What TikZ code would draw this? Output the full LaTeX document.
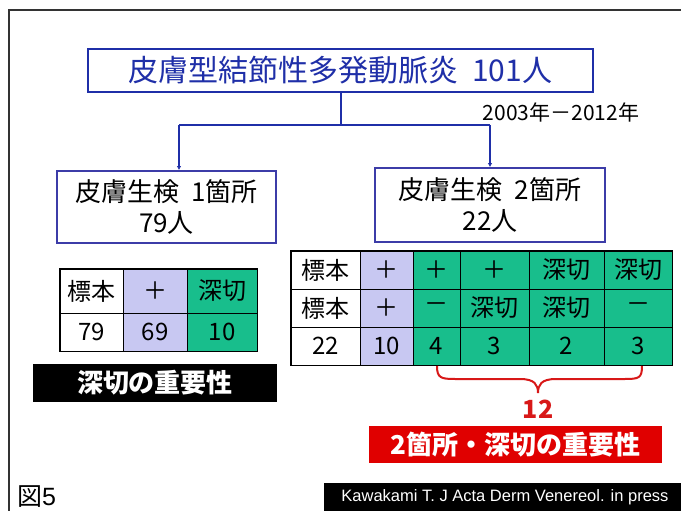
\documentclass[tikz,border=0pt]{standalone}
\usepackage{fontspec}
\setmainfont{Noto Sans CJK JP}
\newfontfamily\arialf{Liberation Sans}
\usetikzlibrary{arrows.meta}
\definecolor{tblue}{HTML}{1F2FA8}
\definecolor{tpurple}{HTML}{3C3CA8}
\definecolor{lav}{HTML}{C8C8F2}
\definecolor{tgreen}{HTML}{18BE8C}
\definecolor{tred}{HTML}{E00000}
\definecolor{bred}{HTML}{D81818}
\newcommand{\tcell}[7]{%
  \node[cellbox, fill=#6, minimum width=#4pt-#2pt, minimum height=#5pt-#3pt]
    (#1) at ({(#2+#4)/2},{(#3+#5)/2}) {#7};}
\tikzset{
  cellbox/.style={draw=black, line width=0.8pt, inner sep=0pt, font=\fontsize{24}{26}\selectfont},
  biobox/.style={draw=tpurple, line width=1.8pt, inner sep=0pt, align=center, font=\fontsize{26}{31}\selectfont},
  cline/.style={draw=tblue, line width=2pt},
  carrow/.style={cline, -{Latex[length=4pt,width=4.5pt]}},
  banner/.style={inner sep=0pt, text=white, font=\bfseries\fontsize{26}{28}\selectfont}
}
\begin{document}
\begin{tikzpicture}[x=1pt,y=-1pt]
\useasboundingbox (0,0) rectangle (681,511);
\fill[white] (0,0) rectangle (681,511);
\draw[line width=1.2pt, black!80] (9,511) -- (9,10) -- (681,10);

% title
\node[draw=tblue, line width=2.5pt, minimum width=505pt, minimum height=43pt, inner sep=0pt,
      text=tblue, font=\fontsize{30}{32}\selectfont] (title) at (340.5,70.5) {皮膚型結節性多発動脈炎\hspace{0.45em}101人};
\node[font=\fontsize{21}{23}\selectfont] (yrs) at (561,112) {2003年－2012年};

% biopsy boxes
\node[biobox, minimum width=219pt, minimum height=72pt] (lbox) at (166.5,207) {皮膚生検\hspace{0.45em}1箇所\\79人};
\node[biobox, minimum width=230pt, minimum height=74pt] (rbox) at (490,205) {皮膚生検\hspace{0.45em}2箇所\\22人};

% connectors
\coordinate (jl) at (179,125);
\coordinate (jr) at (490,125);
\draw[cline] (title.south) -- (title.south |- jl);
\draw[cline] (jl) -- (jr);
\draw[carrow] (jl) -- (jl |- lbox.north);
\draw[carrow] (jr) -- (rbox.north);

% left table
\tcell{la1}{60}{269}{123}{313}{white}{標本}
\tcell{la2}{123}{269}{187}{313}{lav}{＋}
\tcell{la3}{187}{269}{257}{313}{tgreen}{深切}
\tcell{lb1}{60}{313}{123}{351}{white}{79}
\tcell{lb2}{123}{313}{187}{351}{lav}{69}
\tcell{lb3}{187}{313}{257}{351}{tgreen}{10}
\draw[line width=1.8pt] (la1.north west) rectangle (lb3.south east);

% right table
\tcell{ra1}{291}{251}{360}{289}{white}{標本}
\tcell{ra2}{360}{251}{413}{289}{lav}{＋}
\tcell{ra3}{413}{251}{460}{289}{tgreen}{＋}
\tcell{ra4}{460}{251}{529}{289}{tgreen}{＋}
\tcell{ra5}{529}{251}{604}{289}{tgreen}{深切}
\tcell{ra6}{604}{251}{672}{289}{tgreen}{深切}
\tcell{rb1}{291}{289}{360}{327}{white}{標本}
\tcell{rb2}{360}{289}{413}{327}{lav}{＋}
\tcell{rb3}{413}{289}{460}{327}{tgreen}{－}
\tcell{rb4}{460}{289}{529}{327}{tgreen}{深切}
\tcell{rb5}{529}{289}{604}{327}{tgreen}{深切}
\tcell{rb6}{604}{289}{672}{327}{tgreen}{－}
\tcell{rc1}{291}{327}{360}{365}{white}{22}
\tcell{rc2}{360}{327}{413}{365}{lav}{10}
\tcell{rc3}{413}{327}{460}{365}{tgreen}{4}
\tcell{rc4}{460}{327}{529}{365}{tgreen}{3}
\tcell{rc5}{529}{327}{604}{365}{tgreen}{2}
\tcell{rc6}{604}{327}{672}{365}{tgreen}{3}
\draw[line width=1.8pt] (ra1.north west) rectangle (rc6.south east);

% brace and sum
\draw[bred, line width=2pt]
  (437,366) .. controls (437,378) and (441,379) .. (455,379) -- (520,379)
  .. controls (535,379) and (538,385) .. (538,393)
  .. controls (538,385) and (541,379) .. (556,379) -- (625,379)
  .. controls (639,379) and (642,378) .. (642,366);
\node[text=bred, font=\bfseries\fontsize{25}{27}\selectfont] (sum) at (538,409) {12};

% banners
\node[banner, fill=black, minimum width=244pt, minimum height=38pt] (imp1) at (155,383) {深切の重要性};
\node[banner, fill=tred, minimum width=293pt, minimum height=37pt] (imp2) at (515.5,444.5) {2箇所・深切の重要性};

% footer
\fill[black] (324,483) rectangle (690,520);
\node[text=white, inner sep=0pt, font=\arialf\fontsize{16.5}{18}\selectfont] (cite) at (505,497) {Kawakami T. J Acta Derm Venereol. in press};
\node[anchor=west, inner sep=0pt, font=\fontsize{25}{27}\selectfont] (fig) at (17,497) {図{\arialf 5}};
\end{tikzpicture}
\end{document}
